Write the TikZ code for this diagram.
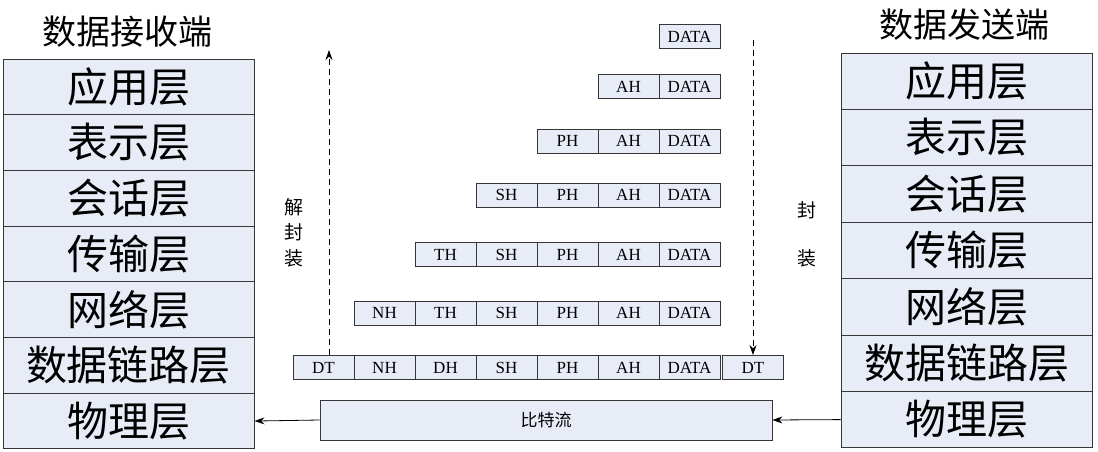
\documentclass[tikz,border=0pt]{standalone}
\usepackage{fontspec}
\setmainfont{Liberation Serif}
\newfontfamily\cjk{Noto Sans CJK SC}
\usetikzlibrary{arrows.meta}
\definecolor{cellfill}{RGB}{231,236,247}
\definecolor{edge}{RGB}{55,55,55}

\begin{document}
\begin{tikzpicture}[x=1pt,y=-1pt,>={Stealth[length=10pt,width=7pt]},
	layer/.style={draw=edge,fill=cellfill,line width=0.9pt,minimum width=251pt,inner sep=0pt,font=\cjk\fontsize{41}{41}\selectfont},
	cell/.style={draw=edge,fill=cellfill,line width=0.8pt,minimum width=61pt,minimum height=24pt,inner sep=0pt,font=\fontsize{17}{17}\selectfont},
	title/.style={font=\cjk\fontsize{34}{34}\selectfont},
	side/.style={font=\cjk\fontsize{19}{19}\selectfont}]
	\useasboundingbox (0,0) rectangle (1098,452);
	% two protocol stacks
	\node[title] (rtitle) at (127,32) {数据接收端};
	\node[title] (stitle) at (964,25) {数据发送端};
	\foreach \name/\lab [count=\i] in {app/应用层,pre/表示层,ses/会话层,tra/传输层,net/网络层,dl/数据链路层,phy/物理层}{
		\node[layer,minimum height=55.7pt] (r\name) at (128.5,{59+55.7*(\i-0.5)}) {\lab};
		\node[layer,minimum height=56.4pt] (s\name) at (966.5,{53+56.4*(\i-0.5)}) {\lab};
	}
	% headers added row by row
	\foreach \row/\yy/\first in {1/36.5/6,2/86.5/5,3/141/4,4/195/3,5/254.5/2,6/313/1}{
		\foreach \lab [count=\i] in {NH,TH,SH,PH,AH,DATA}{
			\ifnum\i<\first\else
			\node[cell] (p\row c\i) at ({384.5+61*(\i-1)},\yy) {\lab};
			\fi
		}
	}
	\foreach \lab [count=\i] in {DT,NH,DH,SH,PH,AH,DATA}{
		\node[cell] (d\i) at ({323.5+61*(\i-1)},367.5) {\lab};
	}
	\node[cell] (dtr) at (753,367.5) {DT};
	\node[cell,minimum width=452pt,minimum height=40pt,font=\cjk\fontsize{17}{17}\selectfont] (bits) at (546,420) {比特流};
	% dashed arrows and their labels
	\coordinate (uptip) at (329,50);
	\coordinate (downtail) at (753,40);
	\draw[dashed,dash pattern=on 6pt off 4pt,line width=0.9pt,->] (uptip |- d1.north) -- (uptip);
	\draw[dashed,dash pattern=on 6pt off 4pt,line width=0.9pt,->] (downtail) -- (dtr.north);
	\node[side] (jie) at (294,207) {解};
	\node[side] (feng1) at (294,232) {封};
	\node[side] (zhuang1) at (294,258) {装};
	\node[side] (feng2) at (807,210) {封};
	\node[side] (zhuang2) at (807,258) {装};
	% bit stream between the stacks
	\draw[line width=0.8pt,->] (sphy.west) -- (bits.east);
	\draw[line width=0.8pt,->] (bits.west) -- (rphy.east);
\end{tikzpicture}
\end{document}
